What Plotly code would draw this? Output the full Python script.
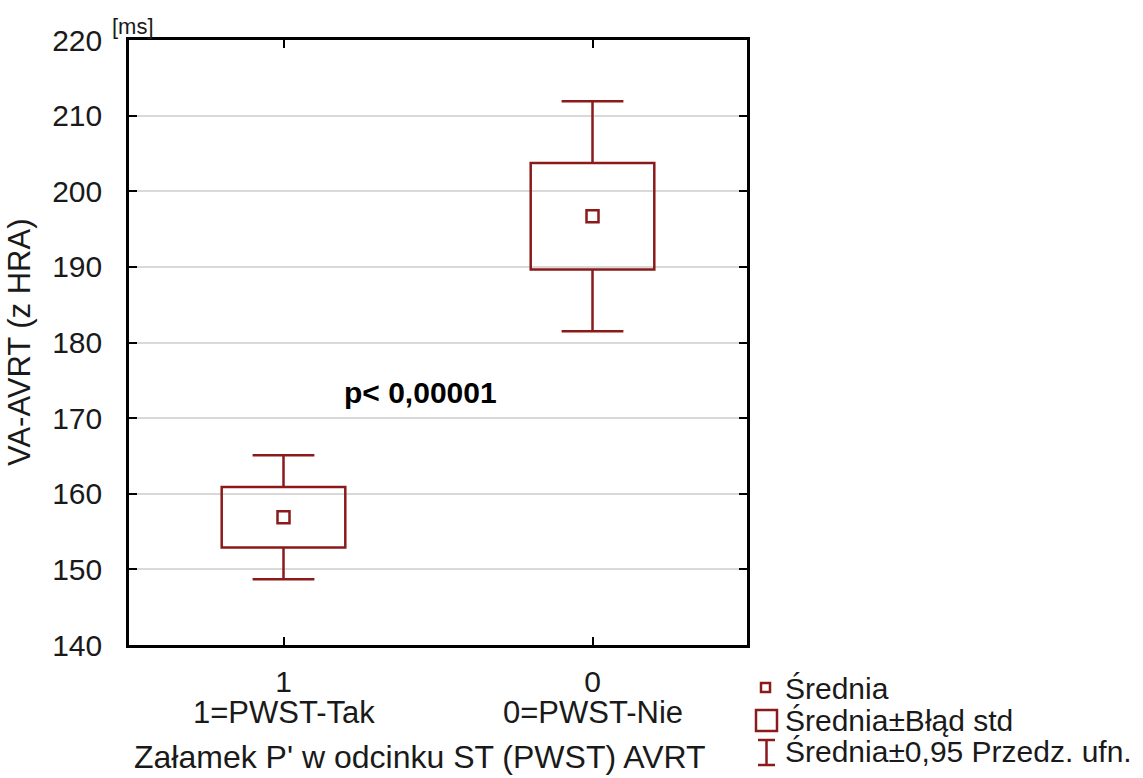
import plotly.graph_objects as go

# Group summaries: mean, standard error and 95% confidence half-width
categories = ["1", "0"]
category_labels = ["1=PWST-Tak", "0=PWST-Nie"]
means = [156.9, 196.7]
std_err = [4.0, 7.05]
ci95 = [8.2, 15.2]

y_ticks = [140, 150, 160, 170, 180, 190, 200, 210, 220]

RED = "#8b1a1a"
FONT = "Arial, Liberation Sans, sans-serif"
TXT = "#1a1a1a"

# plot area in pixels
L, R, T, B = 129, 747, 40, 645
W, H = R - L, B - T

xpos = list(range(len(categories)))
box_half = 0.2
cap_half = 0.1


def px_x(px):
    return (px - L) / W


def px_y(py):
    return (B - py) / H


fig = go.Figure()

# whiskers (mean ± 95% CI) drawn as line segments
wx, wy = [], []
for x, m, s, c in zip(xpos, means, std_err, ci95):
    wx += [x, x, None, x, x, None, x - cap_half, x + cap_half, None, x - cap_half, x + cap_half, None]
    wy += [m + s, m + c, None, m - s, m - c, None, m + c, m + c, None, m - c, m - c, None]
fig.add_trace(go.Scatter(x=wx, y=wy, mode="lines", line=dict(color=RED, width=2.5),
                         showlegend=False, hoverinfo="skip"))

# boxes (mean ± standard error)
for x, m, s in zip(xpos, means, std_err):
    fig.add_shape(type="rect", xref="x", yref="y", x0=x - box_half, x1=x + box_half,
                  y0=m - s, y1=m + s, line=dict(color=RED, width=2.5),
                  fillcolor="rgba(0,0,0,0)", layer="above")

# mean markers
fig.add_trace(go.Scatter(x=xpos, y=means, mode="markers",
                         marker=dict(symbol="square-open", size=12, color=RED,
                                     line=dict(width=2.5, color=RED)),
                         showlegend=False, hoverinfo="skip"))

fig.update_layout(
    width=1143, height=778,
    margin=dict(l=L, r=1143 - R, t=T, b=778 - B),
    plot_bgcolor="white", paper_bgcolor="white",
    font=dict(family=FONT, color=TXT, size=30),
    showlegend=False,
)

fig.update_xaxes(
    range=[-0.5, 1.5],
    tickmode="array", tickvals=xpos, ticktext=categories,
    ticks="inside", ticklen=8, tickwidth=2, tickcolor="black",
    showline=True, linecolor="black", linewidth=2.5, mirror="allticks",
    showgrid=False, zeroline=False,
    tickfont=dict(size=30, color=TXT),
    ticklabelstandoff=8,
)
fig.update_yaxes(
    range=[140, 220],
    tickmode="array", tickvals=y_ticks,
    ticks="inside", ticklen=8, tickwidth=2, tickcolor="black",
    showline=True, linecolor="black", linewidth=2.5, mirror="allticks",
    showgrid=True, gridcolor="#d9d9d9", gridwidth=2, zeroline=False,
    tickfont=dict(size=30, color=TXT),
    ticklabelstandoff=18,
)

# category descriptions under the tick numbers
for x, lab in zip(xpos, category_labels):
    fig.add_annotation(text=lab, xref="x", yref="paper", x=x, y=px_y(712),
                       showarrow=False, xanchor="center", yanchor="middle",
                       font=dict(size=31, color=TXT))

# axis titles and free text
fig.add_annotation(text="VA-AVRT (z HRA)", xref="paper", yref="paper",
                   x=px_x(19), y=px_y(343), textangle=-90, showarrow=False,
                   font=dict(size=31, color=TXT), xanchor="center", yanchor="middle")
fig.add_annotation(text="Załamek P' w odcinku ST (PWST) AVRT", xref="paper", yref="paper",
                   x=px_x(420), y=px_y(757), showarrow=False,
                   font=dict(size=32, color=TXT), xanchor="center", yanchor="middle")
fig.add_annotation(text="[ms]", xref="paper", yref="paper",
                   x=px_x(110), y=px_y(27), showarrow=False,
                   font=dict(size=22, color=TXT), xanchor="left", yanchor="middle")
fig.add_annotation(text="<b>p< 0,00001</b>", xref="paper", yref="paper",
                   x=px_x(420), y=px_y(393), showarrow=False,
                   font=dict(size=30, color="black"), xanchor="center", yanchor="middle")

# legend built from symbols and labels
leg_items = [(688, "Średnia"), (720, "Średnia±Błąd std"), (751, "Średnia±0,95 Przedz. ufn.")]
for py, label in leg_items:
    fig.add_annotation(text=label, xref="paper", yref="paper", x=px_x(783), y=px_y(py),
                       showarrow=False, xanchor="left", yanchor="middle",
                       font=dict(size=30, color=TXT))

# small square
fig.add_shape(type="rect", xref="paper", yref="paper", x0=px_x(761), x1=px_x(770),
              y0=px_y(692), y1=px_y(683), line=dict(color=RED, width=2.5))
# big square
fig.add_shape(type="rect", xref="paper", yref="paper", x0=px_x(756), x1=px_x(777),
              y0=px_y(731), y1=px_y(710), line=dict(color=RED, width=2.5))
# I-beam
fig.add_shape(type="path", xref="paper", yref="paper",
              path=(f"M {px_x(758)} {px_y(740)} L {px_x(775)} {px_y(740)} "
                    f"M {px_x(766.5)} {px_y(740)} L {px_x(766.5)} {px_y(765)} "
                    f"M {px_x(758)} {px_y(765)} L {px_x(775)} {px_y(765)}"),
              line=dict(color=RED, width=2.5))

fig.write_html("out.html")
